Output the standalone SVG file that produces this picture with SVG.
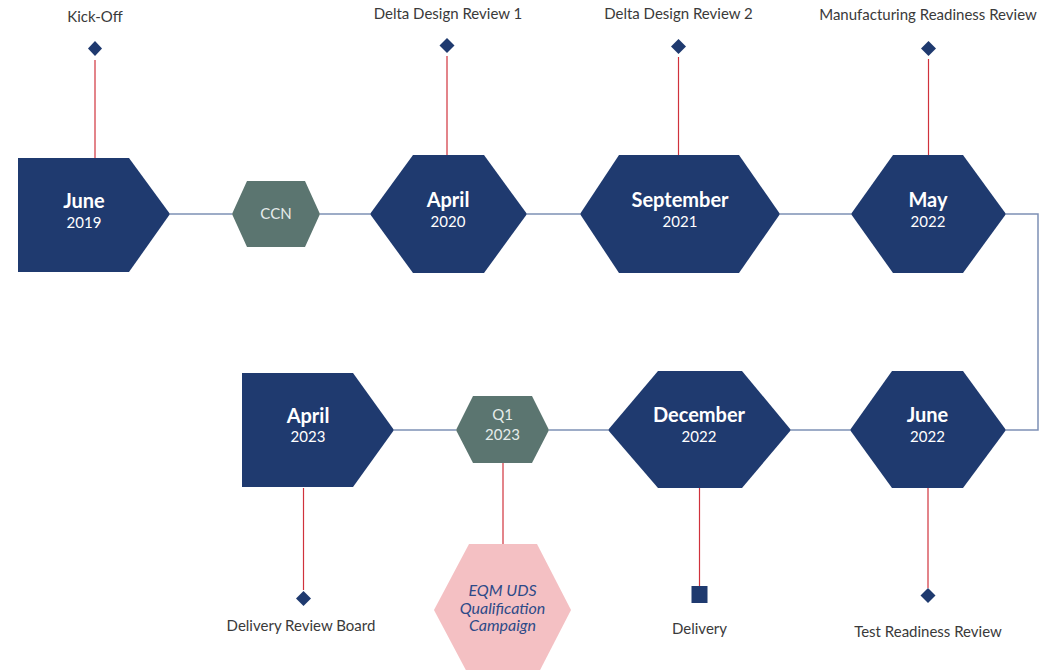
<svg xmlns="http://www.w3.org/2000/svg" width="1046" height="670" viewBox="0 0 1046 670">
<style>
.navy{fill:#1F3A6F}
.green{fill:#5B7570}
.pink{fill:#F4C0C3}
.conn{fill:none;stroke:#7D90B5;stroke-width:1.5}
.red{stroke:#D0323C;stroke-width:1.2;fill:none}
.mk{fill:#1F3A6F}
.lbl{font-family:Lato,"Open Sans",sans-serif;font-size:15px;fill:#3A3A3A;text-anchor:middle}
.m{font-family:Lato,"Open Sans",sans-serif;font-size:20px;font-weight:bold;fill:#FFFFFF;text-anchor:middle}
.y{font-family:Lato,"Open Sans",sans-serif;font-size:15px;fill:#FFFFFF;text-anchor:middle}
.g{font-family:Lato,"Open Sans",sans-serif;font-size:15px;fill:#E6ECEA;text-anchor:middle}
.it{font-family:Lato,"Open Sans",sans-serif;font-size:16px;font-style:italic;fill:#2D4A88;text-anchor:middle}
</style>
<g id="connectors">
<line class="conn" x1="170" y1="214" x2="232" y2="214"/>
<line class="conn" x1="320" y1="214" x2="370" y2="214"/>
<line class="conn" x1="527" y1="214" x2="580" y2="214"/>
<line class="conn" x1="780" y1="214" x2="851" y2="214"/>
<polyline class="conn" points="1006,214 1038,214 1038,430 1006,430"/>
<line class="conn" x1="850" y1="430" x2="791" y2="430"/>
<line class="conn" x1="608" y1="430" x2="549" y2="430"/>
<line class="conn" x1="456" y1="430" x2="394" y2="430"/>
<line class="red" x1="95" y1="60" x2="95" y2="158"/>
<line class="red" x1="447" y1="56" x2="447" y2="155"/>
<line class="red" x1="678.5" y1="57" x2="678.5" y2="155"/>
<line class="red" x1="928.5" y1="59" x2="928.5" y2="155"/>
<line class="red" x1="303.5" y1="488" x2="303.5" y2="590"/>
<line class="red" x1="503" y1="462" x2="503" y2="544"/>
<line class="red" x1="699.5" y1="488" x2="699.5" y2="586"/>
<line class="red" x1="928" y1="488" x2="928" y2="588"/>
</g>
<g id="kickoff">
<text class="lbl" x="95" y="22">Kick-Off</text>
<polygon class="mk" points="95,41 102,48.5 95,56 88,48.5"/>
</g>
<g id="ddr1">
<text class="lbl" x="448" y="19">Delta Design Review 1</text>
<polygon class="mk" points="447,38 454.5,45.5 447,53 439.5,45.5"/>
</g>
<g id="ddr2">
<text class="lbl" x="678.5" y="19">Delta Design Review 2</text>
<polygon class="mk" points="678.5,39 686,46.5 678.5,54 671,46.5"/>
</g>
<g id="mrr">
<text class="lbl" x="928" y="20">Manufacturing Readiness Review</text>
<polygon class="mk" points="928.5,41 936,48.5 928.5,56 921,48.5"/>
</g>
<g id="june2019">
<polygon class="navy" points="18,158 129,158 170,214 129,272 18,272"/>
<text class="m" x="84" y="208">June</text>
<text class="y" x="84" y="228">2019</text>
</g>
<g id="ccn">
<polygon class="green" points="232,214 247,181 305,181 320,214 305,247 247,247"/>
<text class="g" x="276" y="219">CCN</text>
</g>
<g id="april2020">
<polygon class="navy" points="370,214 413,155 484,155 527,214 484,273 413,273"/>
<text class="m" x="448" y="207">April</text>
<text class="y" x="448" y="227">2020</text>
</g>
<g id="sept2021">
<polygon class="navy" points="580,214 619,155 739,155 780,214 739,273 619,273"/>
<text class="m" x="680" y="207">September</text>
<text class="y" x="680" y="227">2021</text>
</g>
<g id="may2022">
<polygon class="navy" points="851,214 893,155 963,155 1006,214 963,273 893,273"/>
<text class="m" x="928" y="207">May</text>
<text class="y" x="928" y="227">2022</text>
</g>
<g id="june2022">
<polygon class="navy" points="850,430 892,371 963,371 1006,430 963,488 892,488"/>
<text class="m" x="927.5" y="422">June</text>
<text class="y" x="927.5" y="442">2022</text>
</g>
<g id="trr">
<polygon class="mk" points="928,588 935.5,595.5 928,603 920.5,595.5"/>
<text class="lbl" x="928" y="637">Test Readiness Review</text>
</g>
<g id="dec2022">
<polygon class="navy" points="608,430 658,371 742,371 791,430 742,488 658,488"/>
<text class="m" x="699" y="422">December</text>
<text class="y" x="699" y="442">2022</text>
</g>
<g id="delivery">
<rect class="mk" x="691.5" y="586" width="16" height="17"/>
<text class="lbl" x="699.5" y="634">Delivery</text>
</g>
<g id="q12023">
<polygon class="green" points="456,430 473,396 532,396 549,430 532,463 473,463"/>
<text class="g" x="502.5" y="420">Q1</text>
<text class="g" x="502.5" y="440">2023</text>
</g>
<g id="eqm">
<polygon class="pink" points="434,610 469,544 537,544 571,610 537,676 469,676"/>
<text class="it" x="502.5" y="596">EQM UDS</text>
<text class="it" x="502.5" y="614">Qualification</text>
<text class="it" x="502.5" y="631">Campaign</text>
</g>
<g id="april2023">
<polygon class="navy" points="242,373 353,373 394,430 353,487 242,487"/>
<text class="m" x="308" y="423">April</text>
<text class="y" x="308" y="442">2023</text>
</g>
<g id="drb">
<polygon class="mk" points="303.5,591 311,598.5 303.5,606 296,598.5"/>
<text class="lbl" x="301" y="631">Delivery Review Board</text>
</g>
</svg>
